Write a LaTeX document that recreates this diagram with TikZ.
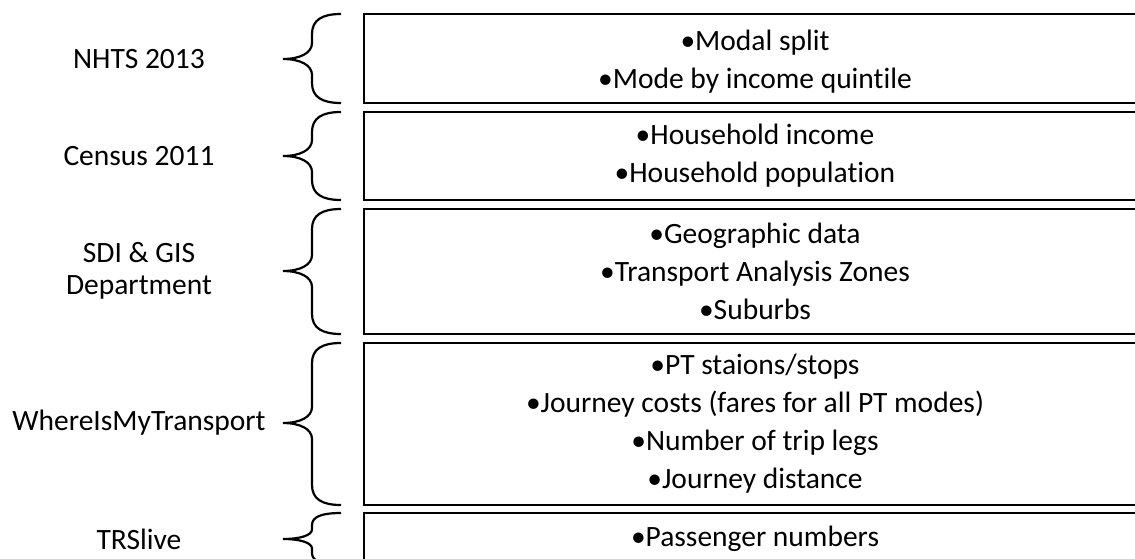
\documentclass[tikz,border=0pt]{standalone}
\usepackage{fontspec}
\setmainfont{Carlito}[Ligatures={NoCommon}]
\begin{document}
\begin{tikzpicture}[x=1pt,y=-1pt,
  lbl/.style={align=center,font=\fontsize{29.5}{32}\selectfont,inner sep=0pt},
  infobox/.style={draw,line width=2.2pt,minimum width=782pt,align=center,
    font=\fontsize{29.5}{38}\selectfont,inner sep=0pt},
  bracestroke/.style={line width=2.2pt}]
\useasboundingbox (0,0) rectangle (1135,558);
\clip (0,0) rectangle (1135,558);
\newcommand\curly[4]{%
  \draw[bracestroke] (341,#1) .. controls (322,#1) and (312,{#1+#4*0.3}) .. (312,{#1+#4})
    -- (312,{#2-#4*0.8}) .. controls (312,{#2-#4*0.3}) and (300,#2) .. (283,#2)
    .. controls (300,#2) and (312,{#2+#4*0.3}) .. (312,{#2+#4*0.8})
    -- (312,{#3-#4}) .. controls (312,{#3-#4*0.3}) and (322,#3) .. (341,#3);}
% boxes
\node[infobox,minimum height=89pt] (b1) at (755,58.5) {\strut•Modal split\\•Mode by income quintile};
\node[infobox,minimum height=88pt] (b2) at (755,156) {•Household income\\•Household population};
\node[infobox,minimum height=125pt] (b3) at (755,271.5) {•Geographic data\\•Transport Analysis Zones\\•Suburbs};
\node[infobox,minimum height=162pt] (b4) at (755,424) {•PT staions/stops\\•Journey costs (fares for all PT modes)\\•Number of trip legs\\•Journey distance};
\node[infobox,minimum height=52pt] (b5) at (755,539) {•Passenger numbers};
% labels
\node[lbl] (l1) at (139,59) {NHTS 2013};
\node[lbl] (l2) at (139,156) {Census 2011};
\node[lbl,font=\fontsize{29.5}{32}\selectfont] (l3) at (139,271) {SDI \& GIS\\Department};
\node[lbl] (l4) at (139,423) {WhereIsMyTransport};
\node[lbl] (l5) at (139,539) {TRSlive};
% braces
\curly{14}{59}{103}{20}
\curly{112}{156}{200}{20}
\curly{209}{271}{334}{20}
\curly{343}{423}{505}{20}
\curly{513}{539}{565}{12}
\end{tikzpicture}
\end{document}
